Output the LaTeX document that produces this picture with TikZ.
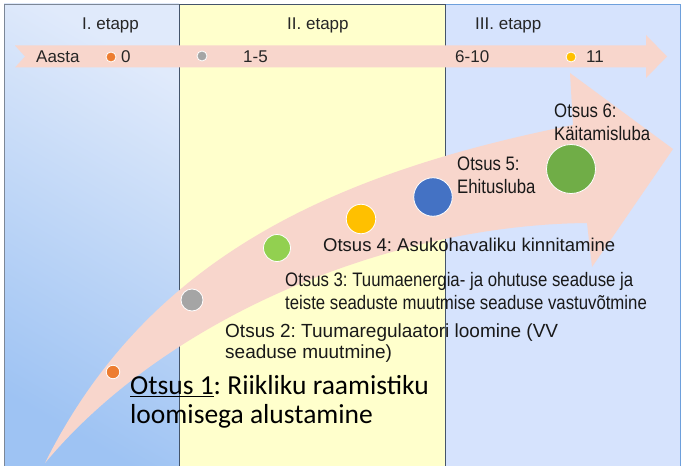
\documentclass[tikz,border=0pt]{standalone}
\usepackage{fontspec}
\setmainfont{Liberation Sans}
\newfontfamily\condfont{Liberation Sans}[FakeStretch=0.86]
\newfontfamily\calfont{Carlito}
\frenchspacing

\definecolor{panelonedark}{RGB}{158,195,243}
\definecolor{panelonelight}{RGB}{224,234,251}
\definecolor{paneltwo}{RGB}{255,255,204}
\definecolor{panelthree}{RGB}{214,227,253}
\definecolor{arrowpink}{RGB}{248,214,204}
\definecolor{edgegray}{RGB}{68,84,106}
\definecolor{edgeblue}{RGB}{110,160,220}
\definecolor{dotorange}{RGB}{237,125,49}
\definecolor{dotgray}{RGB}{165,165,165}
\definecolor{dotlime}{RGB}{146,208,80}
\definecolor{dotyellow}{RGB}{255,192,0}
\definecolor{dotblue}{RGB}{68,114,196}
\definecolor{dotgreen}{RGB}{112,173,71}

\begin{document}
\begin{tikzpicture}[x=1pt,y=-1pt,
  dot/.style={circle,fill=#1,draw=white,line width=0.8pt,inner sep=0pt},
  stage/.style={anchor=west,inner sep=0pt,text=black!85,font=\fontsize{17}{20}\selectfont},
  decision/.style={anchor=west,inner sep=0pt,align=left,text=black!90}]
  \useasboundingbox (0,0) rectangle (684,465);

  \shade[top color=panelonelight,bottom color=panelonedark,shading angle=-30,draw=edgegray!70] (4,4) rectangle (179,470);
  \draw[fill=panelthree,draw=edgeblue] (445,4) rectangle (680,470);
  \draw[fill=paneltwo,draw=edgegray] (179,4) rectangle (445,470);

  \fill[arrowpink] (15,45.5) -- (646,45.5) -- (646,35) -- (667,56.5) -- (646,78)
    -- (646,67.5) -- (15,67.5) -- (25,56.5) -- cycle;
  \fill[arrowpink] (45,463) .. controls (145,263) and (323,175) .. (573,125)
    -- (570,73) -- (673,149) -- (592,267) -- (587,223)
    .. controls (387,225) and (165,319) .. (45,463) -- cycle;

  \node[stage] (etapp1) at (82,25) {I. etapp};
  \node[stage] (etapp2) at (287,25) {II. etapp};
  \node[stage] (etapp3) at (475,25) {III. etapp};

  \node[stage] (aasta) at (36,57) {Aasta};
  \node[dot=dotorange,minimum size=10pt] (year0dot) at (111,57) {};
  \node[stage] (year0) at (121,57) {0};
  \node[dot=dotgray,minimum size=10pt] (year1dot) at (202,56) {};
  \node[stage] (year1) at (243,57) {1-5};
  \node[stage] (year6) at (455,57) {6-10};
  \node[dot=dotyellow,minimum size=10pt] (year11dot) at (571,57) {};
  \node[stage] (year11) at (586,57) {11};

  \node[dot=dotorange,minimum size=13.5pt] (d1) at (113,372) {};
  \node[dot=dotgray,minimum size=22pt] (d2) at (192,300) {};
  \node[dot=dotlime,minimum size=27pt] (d3) at (277,248) {};
  \node[dot=dotyellow,minimum size=29.5pt] (d4) at (361,219) {};
  \node[dot=dotblue,minimum size=38.5pt] (d5) at (433,197) {};
  \node[dot=dotgreen,minimum size=49pt] (d6) at (571,169) {};

  \node[decision,text=black,font=\calfont\fontsize{27.5}{29}\selectfont] (otsus1) at (130,401.5)
    {\underline{Otsus 1}: Riikliku raamistiku\\loomisega alustamine};
  \node[decision,font=\fontsize{19}{20.5}\selectfont] (otsus2) at (225,343)
    {Otsus 2: Tuumaregulaatori loomine (VV\\seaduse muutmine)};
  \node[decision,font=\condfont\fontsize{19.5}{23}\selectfont] (otsus3) at (285,291.5)
    {Otsus 3: Tuumaenergia- ja ohutuse seaduse ja\\teiste seaduste muutmise seaduse vastuvõtmine};
  \node[decision,font=\fontsize{18.5}{22}\selectfont] (otsus4) at (323,245)
    {Otsus 4: Asukohavaliku kinnitamine};
  \node[decision,font=\condfont\fontsize{19.5}{23}\selectfont] (otsus5) at (457,175.5)
    {Otsus 5:\\Ehitusluba};
  \node[decision,font=\condfont\fontsize{19.5}{23}\selectfont] (otsus6) at (554,122)
    {Otsus 6:\\Käitamisluba};
\end{tikzpicture}
\end{document}
